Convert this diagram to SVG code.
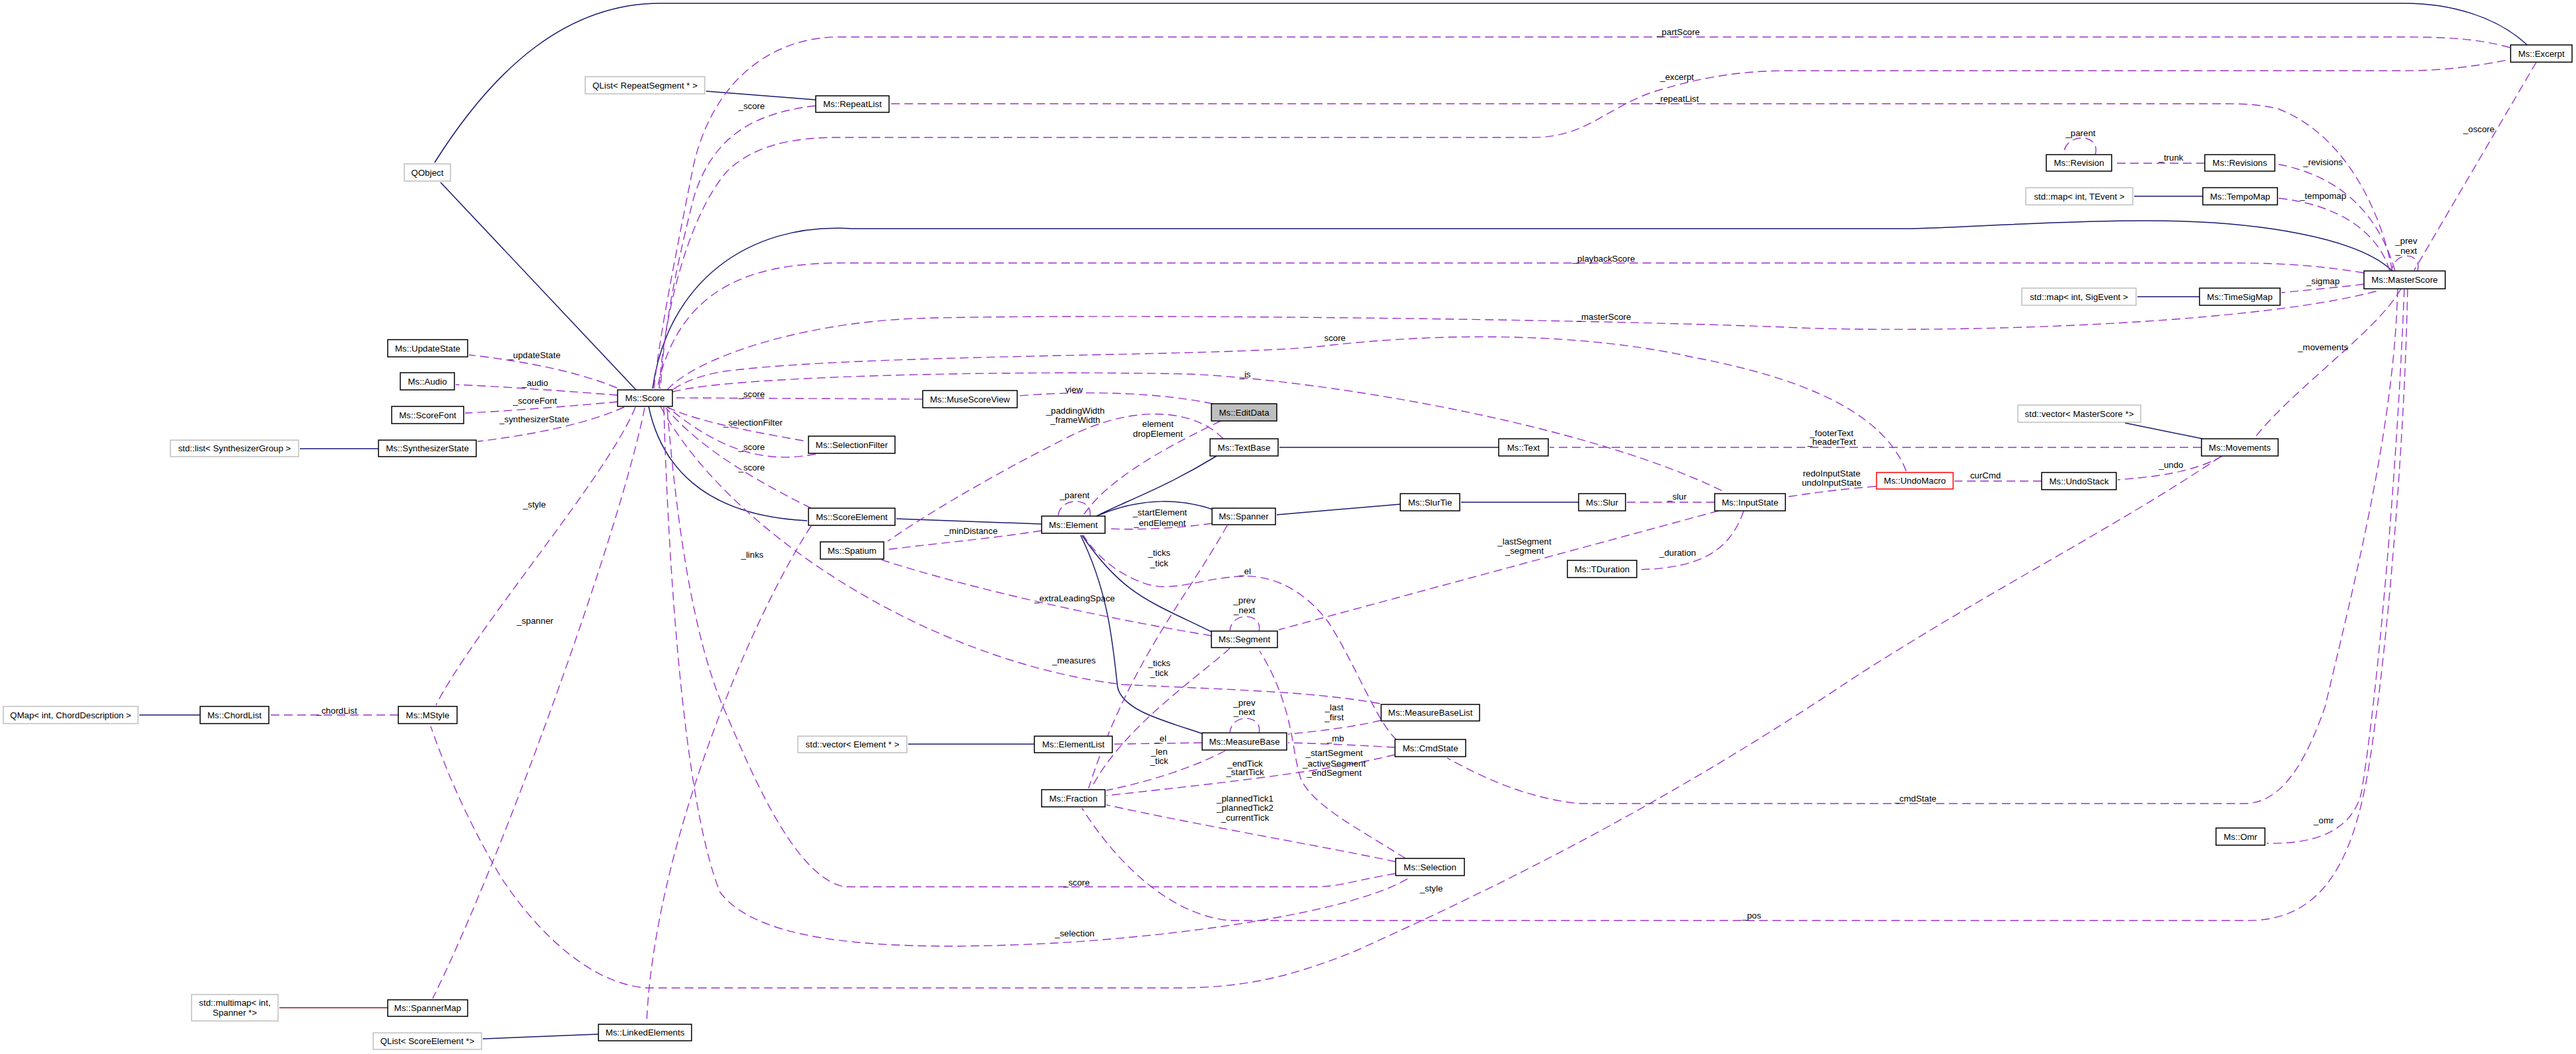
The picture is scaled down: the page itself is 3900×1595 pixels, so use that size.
<svg xmlns="http://www.w3.org/2000/svg" width="3900" height="1595" viewBox="0 0 3900 1595">
<style>
text{font-family:"Liberation Sans",Arial,sans-serif;font-size:13.3px;fill:#000}
.nd text{text-anchor:middle}
.nd rect{fill:#fff;stroke:#000;stroke-width:1.5}
.nd.g rect{stroke:#bfbfbf}
.nd.e rect{fill:#bfbfbf}
.nd.red rect{stroke:#ff0000}
.lb{text-anchor:middle}
path{fill:none}
.i{stroke:#191970;stroke-width:1.5;marker-end:url(#ab)}
.r{stroke:#8b1a1a;stroke-width:1.5;marker-end:url(#ar)}
.u{stroke:#9a32cd;stroke-width:1.4;stroke-dasharray:13,7;marker-end:url(#ap)}
</style>
<defs>
<marker id="ab" markerUnits="userSpaceOnUse" markerWidth="16" markerHeight="12" refX="15" refY="6" orient="auto"><path d="M0,0 L15,6 L0,12 z" fill="#191970" stroke="none"/></marker>
<marker id="ar" markerUnits="userSpaceOnUse" markerWidth="16" markerHeight="12" refX="15" refY="6" orient="auto"><path d="M0,0 L15,6 L0,12 z" fill="#8b1a1a" stroke="none"/></marker>
<marker id="ap" markerUnits="userSpaceOnUse" markerWidth="16" markerHeight="12" refX="15" refY="6" orient="auto"><path d="M0,0 L15,6 L0,12 z" fill="#9a32cd" stroke="none"/></marker>
</defs>
<rect x="0" y="0" width="3900" height="1595" fill="#fff"/>
<g id="connectors">
<!-- inheritance -->
<path class="i" d="M963 590 L667 276"/>
<path class="i" d="M3826 68 C3780 25 3710 5 3640 5 L1000 5 C860 5 750 100 658 246"/>
<path class="i" d="M3622 410 C3570 360 3420 334 3250 334 C3100 334 2950 346 2880 346 L1290 346 C1130 336 1010 430 988 588"/>
<path class="i" d="M982 615 C1000 700 1060 780 1222 788"/>
<path class="i" d="M1577 793 L1357 785"/>
<path class="i" d="M1842 690 C1760 740 1700 760 1660 781"/>
<path class="i" d="M1836 771 C1790 755 1730 752 1665 779"/>
<path class="i" d="M1834 956 C1740 910 1700 900 1638 810"/>
<path class="i" d="M1820 1110 C1760 1090 1700 1075 1692 1040 C1685 980 1680 900 1636 810"/>
<path class="i" d="M2269 677 L1937 677"/>
<path class="i" d="M2120 763 L1933 779"/>
<path class="i" d="M2390 760 L2212 760"/>
<path class="i" d="M1566 1126 L1375 1126"/>
<path class="i" d="M573 679 L454 679"/>
<path class="i" d="M303 1082 L211 1082"/>
<path class="r" d="M587 1525 L423 1525"/>
<path class="i" d="M906 1565 L731 1572"/>
<path class="i" d="M1235 151 L1069 138"/>
<path class="i" d="M3335 297 L3231 297"/>
<path class="i" d="M3330 449 L3236 449"/>
<path class="i" d="M3335 664 L3217 640"/>
<!-- usage -->
<path class="u" d="M934 587 C870 560 780 545 710 537"/>
<path class="u" d="M935 598 C860 592 760 585 690 582"/>
<path class="u" d="M935 608 C860 615 770 622 704 625"/>
<path class="u" d="M945 616 C880 645 790 660 723 668"/>
<path class="u" d="M962 616 C920 720 720 950 660 1067"/>
<path class="u" d="M976 617 C940 800 760 1300 655 1511"/>
<path class="u" d="M1228 796 C1140 930 990 1280 979 1548"/>
<path class="u" d="M1000 615 C1100 800 1400 1000 1700 1036 C1900 1045 2000 1048 2096 1066"/>
<path class="u" d="M1010 616 C1060 640 1150 655 1222 668"/>
<path class="u" d="M1235 687 C1170 700 1100 690 1012 617"/>
<path class="u" d="M1228 769 C1150 730 1060 680 1008 617"/>
<path class="u" d="M1397 604 L1020 602"/>
<path class="u" d="M1836 611 C1760 595 1650 590 1542 599"/>
<path class="u" d="M1018 593 C1100 570 1500 560 1800 566 C2000 575 2400 640 2612 745"/>
<path class="u" d="M2886 713 C2850 620 2720 570 2560 540 C2450 515 2250 495 2000 524 C1850 540 1300 535 1096 562 C1060 568 1035 578 1018 590"/>
<path class="u" d="M1010 590 C1050 545 1200 490 1383 482 C1600 475 2300 480 2700 495 C2900 505 3400 495 3604 439"/>
<path class="u" d="M3579 413 C3500 400 3440 398 3380 398 L1290 398 C1160 396 1030 420 995 588"/>
<path class="u" d="M3800 72 C3750 58 3700 56 3640 56 L1270 56 C1170 56 1080 120 1050 250 C1020 400 1000 500 990 588"/>
<path class="u" d="M998 588 C1005 480 1040 330 1100 260 C1140 220 1200 208 1268 208 L2320 208 C2400 208 2430 165 2500 140 C2580 115 2640 107 2710 107 L3640 107 C3700 107 3750 100 3800 90"/>
<path class="u" d="M3622 410 C3600 300 3540 200 3450 165 C3420 158 3400 157 3370 157 L1348 157"/>
<path class="u" d="M1235 160 C1150 170 1080 200 1050 300 C1020 420 1005 500 1000 588"/>
<path class="u" d="M3840 94 L3655 409"/>
<path class="u" d="M3660 410 C3668 382 3626 378 3621 409"/>
<path class="u" d="M3626 410 C3600 320 3540 265 3446 248"/>
<path class="u" d="M3618 410 C3600 350 3540 310 3450 300"/>
<path class="u" d="M3579 430 C3540 435 3500 438 3454 443"/>
<path class="u" d="M3338 247 L3199 247"/>
<path class="u" d="M3172 234 C3182 203 3128 198 3124 233"/>
<path class="u" d="M3635 437 C3600 500 3470 590 3414 662"/>
<path class="u" d="M3365 690 C3320 715 3260 722 3206 726"/>
<path class="u" d="M3091 728 L2959 728"/>
<path class="u" d="M2840 736 C2790 740 2750 745 2705 752"/>
<path class="u" d="M3333 677 L2346 677"/>
<path class="u" d="M2596 760 L2463 760"/>
<path class="u" d="M2640 773 C2620 830 2580 860 2480 862"/>
<path class="u" d="M2602 773 L1936 953"/>
<path class="u" d="M1848 637 C1780 670 1680 720 1640 780"/>
<path class="u" d="M1852 664 C1810 620 1720 610 1620 660 C1500 720 1400 780 1344 819"/>
<path class="u" d="M1577 803 C1500 815 1420 822 1340 832"/>
<path class="u" d="M1834 962 C1700 940 1500 900 1334 847"/>
<path class="u" d="M1650 781 C1656 753 1606 750 1602 780"/>
<path class="u" d="M1835 792 C1780 800 1720 802 1675 800"/>
<path class="u" d="M1858 795 C1800 900 1710 1000 1648 1193"/>
<path class="u" d="M2115 1120 C2085 1095 2050 1000 2010 940 C1975 895 1930 870 1880 872 C1820 875 1780 895 1740 885 C1690 870 1660 840 1640 810"/>
<path class="u" d="M1906 955 C1913 928 1865 924 1862 954"/>
<path class="u" d="M1862 981 C1820 1020 1700 1100 1652 1193"/>
<path class="u" d="M1906 1109 C1913 1082 1865 1078 1862 1108"/>
<path class="u" d="M1820 1124 L1686 1126"/>
<path class="u" d="M1855 1136 C1800 1165 1730 1185 1675 1196"/>
<path class="u" d="M2112 1142 C2000 1170 1800 1190 1675 1204"/>
<path class="u" d="M2113 1304 C2000 1280 1820 1250 1675 1218"/>
<path class="u" d="M2128 1299 C2050 1250 1990 1220 1970 1180 C1955 1140 1960 1070 1907 985"/>
<path class="u" d="M2112 1131 C2060 1128 2000 1125 1950 1124"/>
<path class="u" d="M2091 1090 C2050 1100 2000 1106 1950 1111"/>
<path class="u" d="M3630 437 C3625 650 3560 900 3520 1070 C3495 1140 3460 1216 3398 1216 L2393 1216 C2320 1210 2250 1180 2191 1147"/>
<path class="u" d="M3645 437 C3640 700 3610 1000 3595 1100 C3575 1260 3540 1393 3404 1393 L1861 1393 C1780 1385 1700 1320 1638 1223"/>
<path class="u" d="M3640 437 C3630 700 3600 1050 3575 1200 C3560 1260 3500 1278 3432 1276"/>
<path class="u" d="M1005 616 C1010 800 1030 1200 1090 1350 C1150 1430 1350 1440 1600 1427 C1800 1415 2050 1380 2134 1328"/>
<path class="u" d="M2113 1322 C2060 1330 2030 1342 1990 1342 L1280 1342 C1200 1330 1130 1150 1092 1063 C1050 960 1025 800 1010 617"/>
<path class="u" d="M3362 691 C3200 800 3000 900 2800 1030 C2500 1230 2250 1350 2050 1440 C1950 1480 1880 1495 1780 1495 L980 1495 C900 1490 820 1420 760 1330 C700 1230 670 1150 652 1099"/>
<path class="u" d="M603 1082 L409 1082"/>
<!-- labels -->
<text class="lb" x="2541" y="53">_partScore</text>
<text class="lb" x="2539" y="121">_excerpt</text>
<text class="lb" x="2539" y="154">_repeatList</text>
<text class="lb" x="2428" y="396">_playbackScore</text>
<text class="lb" x="2428" y="484">_masterScore</text>
<text class="lb" x="2021" y="516">score</text>
<text class="lb" x="3517" y="250">_revisions</text>
<text class="lb" x="3517" y="301">_tempomap</text>
<text class="lb" x="3517" y="430">_sigmap</text>
<text class="lb" x="3287" y="243">_trunk</text>
<text class="lb" x="3150" y="206">_parent</text>
<text class="lb" x="3643" y="369">_prev</text>
<text class="lb" x="3643" y="384">_next</text>
<text class="lb" x="3753" y="200">_oscore</text>
<text class="lb" x="3517" y="530">_movements</text>
<text class="lb" x="809" y="542">_updateState</text>
<text class="lb" x="810" y="584">_audio</text>
<text class="lb" x="810" y="611">_scoreFont</text>
<text class="lb" x="809" y="639">_synthesizerState</text>
<text class="lb" x="809" y="768">_style</text>
<text class="lb" x="810" y="944">_spanner</text>
<text class="lb" x="1138" y="165">_score</text>
<text class="lb" x="1138" y="601">_score</text>
<text class="lb" x="1626" y="594">view</text>
<text class="lb" x="1885" y="571">_is</text>
<text class="lb" x="1628" y="626">_paddingWidth</text>
<text class="lb" x="1628" y="640">_frameWidth</text>
<text class="lb" x="1753" y="646">element</text>
<text class="lb" x="1753" y="661">dropElement</text>
<text class="lb" x="1140" y="644">_selectionFilter</text>
<text class="lb" x="1138" y="681">_score</text>
<text class="lb" x="1138" y="712">_score</text>
<text class="lb" x="1627" y="754">_parent</text>
<text class="lb" x="1756" y="780">_startElement</text>
<text class="lb" x="1756" y="796">_endElement</text>
<text class="lb" x="1470" y="808">_minDistance</text>
<text class="lb" x="1139" y="844">_links</text>
<text class="lb" x="1755" y="841">_ticks</text>
<text class="lb" x="1755" y="857">_tick</text>
<text class="lb" x="1885" y="869">_el</text>
<text class="lb" x="1627" y="910">_extraLeadingSpace</text>
<text class="lb" x="1884" y="913">_prev</text>
<text class="lb" x="1884" y="928">_next</text>
<text class="lb" x="1626" y="1004">_measures</text>
<text class="lb" x="1755" y="1008">_ticks</text>
<text class="lb" x="1755" y="1023">_tick</text>
<text class="lb" x="1884" y="1068">_prev</text>
<text class="lb" x="1884" y="1082">_next</text>
<text class="lb" x="1757" y="1122">_el</text>
<text class="lb" x="1755" y="1142">_len</text>
<text class="lb" x="1755" y="1156">_tick</text>
<text class="lb" x="1885" y="1160">_endTick</text>
<text class="lb" x="1885" y="1173">_startTick</text>
<text class="lb" x="1885" y="1213">_plannedTick1</text>
<text class="lb" x="1885" y="1227">_plannedTick2</text>
<text class="lb" x="1885" y="1242">_currentTick</text>
<text class="lb" x="2020" y="1144">_startSegment</text>
<text class="lb" x="2020" y="1160">_activeSegment</text>
<text class="lb" x="2020" y="1174">_endSegment</text>
<text class="lb" x="2020" y="1075">_last</text>
<text class="lb" x="2020" y="1090">_first</text>
<text class="lb" x="2022" y="1122">_mb</text>
<text class="lb" x="2900" y="1213">_cmdState</text>
<text class="lb" x="2652" y="1390">_pos</text>
<text class="lb" x="3518" y="1246">_omr</text>
<text class="lb" x="2167" y="1349">_style</text>
<text class="lb" x="1627" y="1417">_selection</text>
<text class="lb" x="1630" y="1340">_score</text>
<text class="lb" x="2773" y="660">_footerText</text>
<text class="lb" x="2773" y="673">_headerText</text>
<text class="lb" x="2773" y="721">redoInputState</text>
<text class="lb" x="2773" y="735">undoInputState</text>
<text class="lb" x="3006" y="724">curCmd</text>
<text class="lb" x="3287" y="708">_undo</text>
<text class="lb" x="2539" y="756">_slur</text>
<text class="lb" x="2308" y="824">_lastSegment</text>
<text class="lb" x="2308" y="838">_segment</text>
<text class="lb" x="2540" y="841">_duration</text>
<text class="lb" x="510" y="1080">_chordList</text>
</g>
<g id="n_qobject" class="nd g"><rect x="612" y="248" width="70" height="26"/><text x="647" y="265.7">QObject</text></g>
<g id="n_qlist_repeat" class="nd g"><rect x="886" y="116" width="181" height="26"/><text x="976.5" y="133.7">QList&lt; RepeatSegment * &gt;</text></g>
<g id="n_repeatlist" class="nd"><rect x="1235" y="145" width="111" height="25"/><text x="1290.5" y="162.2">Ms::RepeatList</text></g>
<g id="n_excerpt" class="nd"><rect x="3801" y="68" width="93" height="26"/><text x="3847.5" y="85.7">Ms::Excerpt</text></g>
<g id="n_revision" class="nd"><rect x="3098" y="234" width="99" height="25"/><text x="3147.5" y="251.2">Ms::Revision</text></g>
<g id="n_revisions" class="nd"><rect x="3338" y="234" width="106" height="25"/><text x="3391" y="251.2">Ms::Revisions</text></g>
<g id="n_map_tevent" class="nd g"><rect x="3067" y="284" width="162" height="26"/><text x="3148" y="301.7">std::map&lt; int, TEvent &gt;</text></g>
<g id="n_tempomap" class="nd"><rect x="3335" y="284" width="113" height="26"/><text x="3391.5" y="301.7">Ms::TempoMap</text></g>
<g id="n_masterscore" class="nd"><rect x="3579" y="410" width="123" height="27"/><text x="3640.5" y="428.2">Ms::MasterScore</text></g>
<g id="n_map_sigevent" class="nd g"><rect x="3061" y="436" width="173" height="26"/><text x="3147.5" y="453.7">std::map&lt; int, SigEvent &gt;</text></g>
<g id="n_timesigmap" class="nd"><rect x="3330" y="436" width="122" height="26"/><text x="3391" y="453.7">Ms::TimeSigMap</text></g>
<g id="n_updatestate" class="nd"><rect x="587" y="514" width="121" height="26"/><text x="647.5" y="531.7">Ms::UpdateState</text></g>
<g id="n_audio" class="nd"><rect x="606" y="564" width="82" height="26"/><text x="647" y="581.7">Ms::Audio</text></g>
<g id="n_scorefont" class="nd"><rect x="593" y="615" width="109" height="26"/><text x="647.5" y="632.7">Ms::ScoreFont</text></g>
<g id="n_list_synth" class="nd g"><rect x="258" y="666" width="194" height="25"/><text x="355" y="683.2">std::list&lt; SynthesizerGroup &gt;</text></g>
<g id="n_synthstate" class="nd"><rect x="573" y="666" width="148" height="25"/><text x="647" y="683.2">Ms::SynthesizerState</text></g>
<g id="n_score" class="nd"><rect x="935" y="590" width="83" height="25"/><text x="976.5" y="607.2">Ms::Score</text></g>
<g id="n_musescoreview" class="nd"><rect x="1397" y="591" width="143" height="26"/><text x="1468.5" y="608.7">Ms::MuseScoreView</text></g>
<g id="n_editdata" class="nd e"><rect x="1834" y="611" width="99" height="26"/><text x="1883.5" y="628.7">Ms::EditData</text></g>
<g id="n_selectionfilter" class="nd"><rect x="1224" y="660" width="131" height="26"/><text x="1289.5" y="677.7">Ms::SelectionFilter</text></g>
<g id="n_textbase" class="nd"><rect x="1832" y="664" width="103" height="26"/><text x="1883.5" y="681.7">Ms::TextBase</text></g>
<g id="n_scoreelement" class="nd"><rect x="1224" y="769" width="131" height="26"/><text x="1289.5" y="786.7">Ms::ScoreElement</text></g>
<g id="n_element" class="nd"><rect x="1577" y="781" width="96" height="26"/><text x="1625" y="798.7">Ms::Element</text></g>
<g id="n_spanner" class="nd"><rect x="1835" y="769" width="96" height="25"/><text x="1883" y="786.2">Ms::Spanner</text></g>
<g id="n_spatium" class="nd"><rect x="1242" y="820" width="96" height="26"/><text x="1290" y="837.7">Ms::Spatium</text></g>
<g id="n_segment" class="nd"><rect x="1834" y="955" width="100" height="25"/><text x="1884" y="972.2">Ms::Segment</text></g>
<g id="n_text" class="nd"><rect x="2269" y="664" width="75" height="26"/><text x="2306.5" y="681.7">Ms::Text</text></g>
<g id="n_undomacro" class="nd red"><rect x="2841" y="715" width="116" height="25"/><text x="2899" y="732.2">Ms::UndoMacro</text></g>
<g id="n_slurtie" class="nd"><rect x="2120" y="747" width="90" height="26"/><text x="2165" y="764.7">Ms::SlurTie</text></g>
<g id="n_slur" class="nd"><rect x="2390" y="747" width="71" height="26"/><text x="2425.5" y="764.7">Ms::Slur</text></g>
<g id="n_inputstate" class="nd"><rect x="2596" y="747" width="107" height="26"/><text x="2649.5" y="764.7">Ms::InputState</text></g>
<g id="n_tduration" class="nd"><rect x="2373" y="848" width="105" height="26"/><text x="2425.5" y="865.7">Ms::TDuration</text></g>
<g id="n_vector_master" class="nd g"><rect x="3055" y="613" width="186" height="26"/><text x="3148" y="630.7">std::vector&lt; MasterScore *&gt;</text></g>
<g id="n_movements" class="nd"><rect x="3333" y="664" width="116" height="26"/><text x="3391" y="681.7">Ms::Movements</text></g>
<g id="n_undostack" class="nd"><rect x="3091" y="715" width="113" height="26"/><text x="3147.5" y="732.7">Ms::UndoStack</text></g>
<g id="n_qmap_chord" class="nd g"><rect x="5" y="1069" width="204" height="26"/><text x="107" y="1086.7">QMap&lt; int, ChordDescription &gt;</text></g>
<g id="n_chordlist" class="nd"><rect x="303" y="1069" width="104" height="26"/><text x="355" y="1086.7">Ms::ChordList</text></g>
<g id="n_mstyle" class="nd"><rect x="603" y="1069" width="89" height="26"/><text x="647.5" y="1086.7">Ms::MStyle</text></g>
<g id="n_multimap" class="nd g"><rect x="290" y="1505" width="131" height="40"/><text x="355.5" y="1522">std::multimap&lt; int,</text><text x="355.5" y="1537">Spanner *&gt;</text></g>
<g id="n_spannermap" class="nd"><rect x="587" y="1513" width="121" height="25"/><text x="647.5" y="1530.2">Ms::SpannerMap</text></g>
<g id="n_qlist_scoreel" class="nd g"><rect x="565" y="1563" width="164" height="25"/><text x="647" y="1580.2">QList&lt; ScoreElement *&gt;</text></g>
<g id="n_linkedelements" class="nd"><rect x="906" y="1550" width="141" height="25"/><text x="976.5" y="1567.2">Ms::LinkedElements</text></g>
<g id="n_vector_element" class="nd g"><rect x="1208" y="1114" width="165" height="25"/><text x="1290.5" y="1131.2">std::vector&lt; Element * &gt;</text></g>
<g id="n_elementlist" class="nd"><rect x="1566" y="1114" width="118" height="25"/><text x="1625" y="1131.2">Ms::ElementList</text></g>
<g id="n_measurebase" class="nd"><rect x="1820" y="1109" width="128" height="26"/><text x="1884" y="1126.7">Ms::MeasureBase</text></g>
<g id="n_fraction" class="nd"><rect x="1577" y="1195" width="96" height="26"/><text x="1625" y="1212.7">Ms::Fraction</text></g>
<g id="n_measurebaselist" class="nd"><rect x="2091" y="1066" width="149" height="25"/><text x="2165.5" y="1083.2">Ms::MeasureBaseList</text></g>
<g id="n_cmdstate" class="nd"><rect x="2112" y="1119" width="107" height="26"/><text x="2165.5" y="1136.7">Ms::CmdState</text></g>
<g id="n_selection" class="nd"><rect x="2113" y="1299" width="104" height="26"/><text x="2165" y="1316.7">Ms::Selection</text></g>
<g id="n_omr" class="nd"><rect x="3355" y="1253" width="74" height="26"/><text x="3392" y="1270.7">Ms::Omr</text></g>
</svg>
